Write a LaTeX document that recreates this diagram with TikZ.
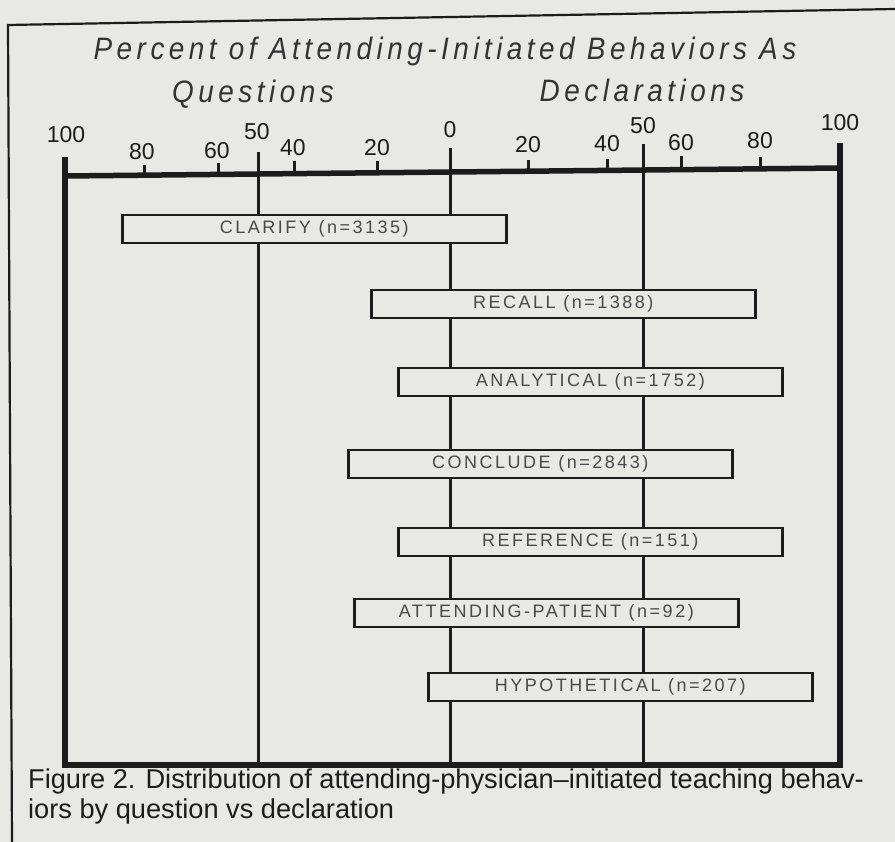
\documentclass[tikz,border=0pt]{standalone}
\usepackage{fontspec}
\setmainfont{Liberation Sans}
\newfontfamily\headfont[FakeStretch=0.9,LetterSpace=14.5]{Liberation Sans}
\newfontfamily\barfont[LetterSpace=14]{Liberation Sans}
\usetikzlibrary{positioning}
\definecolor{paper}{HTML}{E8E8E5}
\definecolor{ink}{HTML}{1C1C1C}
\tikzset{bar/.style={draw=ink,line width=2.6pt,fill=paper,minimum width=384pt,minimum height=28pt,inner sep=0pt,anchor=west,font=\barfont\fontsize{18}{18}\selectfont,text=ink!80}}
\tikzset{ticklabel/.style={font=\fontsize{23}{23}\selectfont,text=ink,inner sep=0pt}}
\tikzset{heading/.style={font=\headfont\itshape\fontsize{31}{31}\selectfont,text=ink!90,inner sep=0pt}}
\tikzset{axis/.style={draw=ink,line width=5.5pt}}
\tikzset{grid/.style={draw=ink,line width=3pt}}

\begin{document}
\begin{tikzpicture}[x=1pt,y=-1pt]
\useasboundingbox[fill=paper] (0,0) rectangle (895,842);
% frame of the page
\draw[ink,line width=2.2pt] (12,842) -- (8,25) -- (895,9);
% headings
\node[heading] (title) at (445,51) {Percent of Attending-Initiated Behaviors As};
\node[heading] (quest) at (253,94) {Questions};
\node[heading] (decl) at (642,90) {Declarations};
% scale
\coordinate (qfull) at (65,176);
\coordinate (qhalf) at (258,174);
\coordinate (zero) at (450,172);
\coordinate (dhalf) at (643,170);
\coordinate (dfull) at (840,168);
\draw[grid] (258,152) -- (qhalf) -- (258,765);
\draw[grid] (450,148) -- (zero) -- (450,765);
\draw[grid] (643,144) -- (dhalf) -- (643,765);
\draw[axis] (65,157) -- (65,765) -- (840,765) -- (840,143);
\draw[axis] (qfull) -- (dfull);
\foreach \x/\t in {144/165,218/163,294/161,377/161,528/160,607/159,681/156,760/157}
  \draw[grid] (\x,\t) -- (\x,{176-(\x-65)*8/775});
% tick labels
\foreach \x/\y/\v [count=\i] in {66/135/100,142/152/80,217/151/60,257/132/50,293/148/40,377/148/20,450/130/0,
    528/145/20,607/144/40,643/126/50,681/143/60,760/141/80,840/123/100}
  \node[ticklabel] (tick\i) at (\x,\y) {\v};
% bars
\node[bar] (clarify) at (121,229) {CLARIFY (n=3135)};
\node[bar] (recall) at (370,304) {RECALL (n=1388)};
\node[bar] (analyt) at (397,382) {ANALYTICAL (n=1752)};
\node[bar] (conclude) at (347,464) {CONCLUDE (n=2843)};
\node[bar] (refer) at (397,542) {REFERENCE (n=151)};
\node[bar] (attpat) at (353,613) {ATTENDING-PATIENT (n=92)};
\node[bar] (hypo) at (427,687) {HYPOTHETICAL (n=207)};
% caption
\node[anchor=west,inner sep=0pt,align=left,font=\fontsize{27.2}{30}\selectfont,text=ink] (caption) at (28,796)
  {Figure 2. Distribution of attending-physician–initiated teaching behav-\\iors by question vs declaration};
\end{tikzpicture}
\end{document}
